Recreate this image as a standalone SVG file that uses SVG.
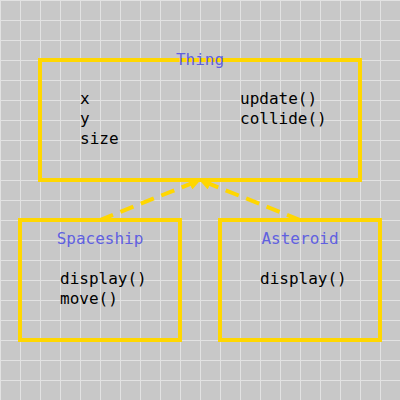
<svg xmlns="http://www.w3.org/2000/svg" width="400" height="400" viewBox="0 0 400 400">
<defs>
<pattern id="grid" x="0" y="0" width="20" height="20" patternUnits="userSpaceOnUse">
<path d="M0.5 0V20M0 0.5H20" stroke="#e2e2e2" stroke-width="1" fill="none"/>
</pattern>
<marker id="arr" viewBox="0 0 10 10" refX="9" refY="5" markerWidth="3" markerHeight="3" orient="auto" markerUnits="strokeWidth">
<path d="M0 0L10 5L0 10z" fill="#ffd700"/>
</marker>
</defs>
<style>
.box{fill:none;stroke:#ffd700;stroke-width:4}
.title{font-family:"DejaVu Sans Mono",monospace;font-size:16px;fill:#6060e0;text-anchor:middle}
.body{font-family:"DejaVu Sans Mono",monospace;font-size:16px;fill:#000}
.conn{stroke:#ffd700;stroke-width:4;stroke-dasharray:14 8;fill:none}
</style>
<rect width="400" height="400" fill="#c8c8c8"/>
<rect x="0" y="0" width="400" height="400" fill="url(#grid)"/>
<g id="connectors">
<line class="conn" x1="100" y1="220" x2="200" y2="180" marker-end="url(#arr)"/>
<line class="conn" x1="300" y1="220" x2="200" y2="180" marker-end="url(#arr)"/>
</g>
<g id="thing">
<rect class="box" x="40" y="60" width="320" height="120"/>
<text class="title" x="200" y="65">Thing</text>
<text class="body" x="80" y="104">x</text>
<text class="body" x="80" y="124">y</text>
<text class="body" x="80" y="144">size</text>
<text class="body" x="240" y="104">update()</text>
<text class="body" x="240" y="124">collide()</text>
</g>
<g id="spaceship">
<rect class="box" x="20" y="220" width="160" height="120"/>
<text class="title" x="100" y="244">Spaceship</text>
<text class="body" x="60" y="284">display()</text>
<text class="body" x="60" y="304">move()</text>
</g>
<g id="asteroid">
<rect class="box" x="220" y="220" width="160" height="120"/>
<text class="title" x="300" y="244">Asteroid</text>
<text class="body" x="260" y="284">display()</text>
</g>
</svg>
